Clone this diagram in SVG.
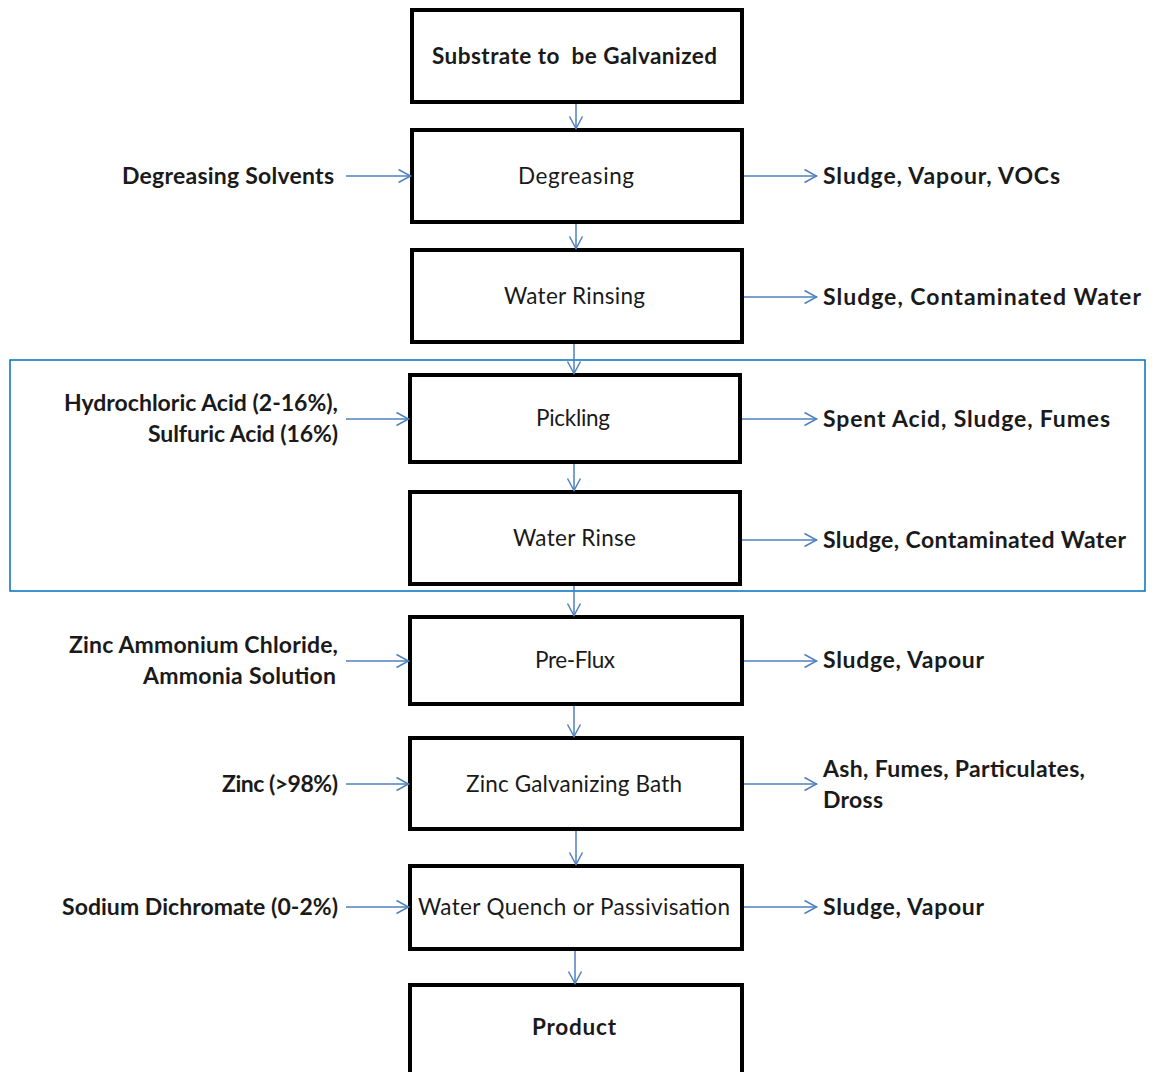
<svg xmlns="http://www.w3.org/2000/svg" width="1152" height="1072" viewBox="0 0 1152 1072">
<defs>
<marker id="ah" viewBox="0 0 16 16" refX="14.5" refY="8" markerWidth="16" markerHeight="16" markerUnits="userSpaceOnUse" orient="auto">
<path d="M2,1.5 L14,8 L2,14.5" fill="none" stroke="#4f81bd" stroke-width="1.5"/>
</marker>
<style>
.box{fill:#fff;stroke:#000;stroke-width:4}
.t{font-family:Lato,"Liberation Sans",sans-serif;font-size:22.5px;fill:#1a1a1a;text-anchor:middle;white-space:pre}
.b{font-weight:bold}
.l{font-family:Lato,"Liberation Sans",sans-serif;font-size:23px;font-weight:bold;fill:#1a1a1a}
.r{text-anchor:end}
.c{stroke:#4f81bd;stroke-width:1.5;fill:none;marker-end:url(#ah)}
</style>
</defs>
<rect x="10" y="360" width="1135" height="231" fill="none" stroke="#0070c0" stroke-width="1.5"/>
<g id="n1"><rect class="box" x="412" y="10" width="330" height="92"/><text class="t b" x="574.5" y="64" textLength="285" xml:space="preserve">Substrate to  be Galvanized</text></g>
<g id="n2"><rect class="box" x="412" y="130" width="330" height="92"/><text class="t" x="576" y="184" textLength="116">Degreasing</text></g>
<g id="n3"><rect class="box" x="412" y="250" width="330" height="92"/><text class="t" x="574.5" y="304" textLength="141">Water Rinsing</text></g>
<g id="n4"><rect class="box" x="410" y="375" width="330" height="87"/><text class="t" x="573" y="426" textLength="74">Pickling</text></g>
<g id="n5"><rect class="box" x="410" y="492" width="330" height="92"/><text class="t" x="574.5" y="546" textLength="123">Water Rinse</text></g>
<g id="n6"><rect class="box" x="410" y="617" width="332" height="87"/><text class="t" x="575" y="668" textLength="80">Pre-Flux</text></g>
<g id="n7"><rect class="box" x="410" y="738" width="332" height="91"/><text class="t" x="574" y="792" textLength="216">Zinc Galvanizing Bath</text></g>
<g id="n8"><rect class="box" x="410" y="866" width="332" height="83"/><text class="t" x="574" y="915" textLength="312">Water Quench or Passivisation</text></g>
<g id="n9"><rect class="box" x="410" y="985" width="332" height="95"/><text class="t b" x="574" y="1035" textLength="84">Product</text></g>
<g id="inputs">
<text class="l r" x="334" y="184" textLength="212">Degreasing Solvents</text>
<text class="l r" x="338" y="411" textLength="274">Hydrochloric Acid (2-16%),</text>
<text class="l r" x="338" y="442" textLength="190">Sulfuric Acid (16%)</text>
<text class="l r" x="338" y="653" textLength="269">Zinc Ammonium Chloride,</text>
<text class="l r" x="336" y="684" textLength="193">Ammonia Solution</text>
<text class="l r" x="338" y="792" textLength="116">Zinc (&gt;98%)</text>
<text class="l r" x="338" y="915" textLength="276">Sodium Dichromate (0-2%)</text>
</g>
<g id="outputs">
<text class="l" x="823" y="184" textLength="237">Sludge, Vapour, VOCs</text>
<text class="l" x="823" y="305" textLength="318">Sludge, Contaminated Water</text>
<text class="l" x="823" y="427" textLength="287">Spent Acid, Sludge, Fumes</text>
<text class="l" x="823" y="548" textLength="303">Sludge, Contaminated Water</text>
<text class="l" x="823" y="668" textLength="161">Sludge, Vapour</text>
<text class="l" x="823" y="777" textLength="262">Ash, Fumes, Particulates,</text>
<text class="l" x="823" y="808" textLength="60">Dross</text>
<text class="l" x="823" y="915" textLength="161">Sludge, Vapour</text>
</g>
<g id="connectors">
<path class="c" d="M576,104 V129"/>
<path class="c" d="M576,224 V249"/>
<path class="c" d="M574,344 V374"/>
<path class="c" d="M574,464 V491"/>
<path class="c" d="M574,586 V616"/>
<path class="c" d="M574,706 V737"/>
<path class="c" d="M576,831 V865"/>
<path class="c" d="M575,951 V984"/>
<path class="c" d="M346,176 H411"/>
<path class="c" d="M346,419 H409"/>
<path class="c" d="M346,661 H409"/>
<path class="c" d="M346,784 H409"/>
<path class="c" d="M346,907 H409"/>
<path class="c" d="M744,176 H817"/>
<path class="c" d="M744,297 H817"/>
<path class="c" d="M742,419 H817"/>
<path class="c" d="M742,540 H817"/>
<path class="c" d="M744,661 H817"/>
<path class="c" d="M744,784 H817"/>
<path class="c" d="M744,907 H817"/>
</g>
</svg>
